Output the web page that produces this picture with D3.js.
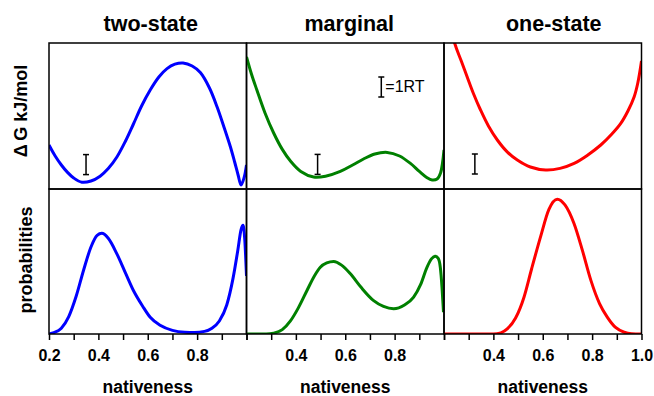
<!DOCTYPE html>
<html>
<head>
<meta charset="utf-8">
<script src="https://cdn.jsdelivr.net/npm/d3@7/dist/d3.min.js"></script>
<style>
  html, body { margin: 0; padding: 0; background: #fff; }
  svg { display: block; font-family: "Liberation Sans", Arial, sans-serif; }
</style>
</head>
<body>
<svg id="chart" width="654" height="396"></svg>
<script>
// Column titles and colours
const panels = ["two-state", "marginal", "one-state"];
const colors = ["#0000ff", "#008000", "#ff0000"];

// Free-energy profiles (in units of RT) vs nativeness
const twoStateNat = [0.2, 0.225, 0.25, 0.275, 0.3, 0.333, 0.37, 0.407, 0.44, 0.475, 0.51, 0.542, 0.575, 0.61, 0.645, 0.678, 0.71, 0.743, 0.78, 0.813, 0.85, 0.881, 0.91, 0.935, 0.952, 0.966, 0.978, 0.99, 1.0];
const twoStateG   = [2.2, 1.65,  1.2,  0.83,  0.55, 0.34, 0.4,  0.64,  1.02, 1.6,   2.4,  3.25,  4.15,  4.95, 5.6,   6.02,  6.24, 6.3,   6.15, 5.82,  5.05, 4.1,   3.05, 2.1,   1.35,  0.7,   0.2,   0.55, 1.2];

const marginalNat = [0.2, 0.22, 0.242, 0.275, 0.31, 0.345, 0.378, 0.42, 0.472, 0.52, 0.58, 0.63, 0.674, 0.72, 0.77, 0.82, 0.864, 0.9, 0.93, 0.952, 0.972, 0.986, 1.0];
const marginalG   = [6.6, 5.75, 4.95,  3.8,   2.8,  1.98,  1.4,   0.88, 0.6,   0.64, 0.88, 1.2,  1.5,   1.75, 1.83, 1.65, 1.28,  0.88, 0.58, 0.45,  0.5,   0.8,   1.95];

const oneStateNat = [0.2, 0.243, 0.27, 0.294, 0.32, 0.348, 0.38, 0.416, 0.455, 0.497, 0.55, 0.612, 0.67, 0.727, 0.78, 0.835, 0.88, 0.916, 0.945, 0.97, 0.985, 1.0];
const oneStateG   = [9.5, 7.3,   6.4,  5.6,   4.75, 3.95,  3.15, 2.45,  1.87,  1.45,  1.1,  0.95,  1.03, 1.28,  1.68, 2.2,   2.75, 3.28,  3.9,   4.6,  5.3,   6.4];

// Probability distributions vs nativeness
const twoStatePNat = [0.2, 0.22, 0.25, 0.28, 0.31, 0.34, 0.37, 0.395, 0.414, 0.44, 0.474, 0.51, 0.542, 0.58, 0.61, 0.65, 0.7, 0.75, 0.79, 0.83, 0.86, 0.89, 0.92, 0.945, 0.965, 0.978, 0.986, 0.993, 1.0];
const twoStateP    = [0.0, 0.01, 0.04, 0.12, 0.26, 0.44, 0.6,  0.68,  0.694, 0.66, 0.556, 0.42, 0.3,   0.19, 0.115, 0.06, 0.025, 0.012, 0.01, 0.018, 0.04, 0.09, 0.2,  0.38,  0.58,  0.72,  0.75,  0.65,  0.4];

const marginalPNat = [0.2, 0.28, 0.31, 0.345, 0.378, 0.41, 0.445, 0.475, 0.499, 0.525, 0.553, 0.585, 0.62, 0.665, 0.715, 0.755, 0.796, 0.84, 0.877, 0.905, 0.931, 0.95, 0.965, 0.977, 0.985, 0.992, 0.998];
const marginalP    = [0.0, 0.0,  0.006, 0.03, 0.09,  0.18, 0.3,   0.4,   0.46,  0.49,  0.5,   0.475, 0.417, 0.32,  0.23,  0.19,  0.174, 0.2,  0.254, 0.34,  0.46,  0.52, 0.537, 0.52,  0.46,  0.32,  0.15];

const oneStatePNat = [0.2, 0.4, 0.43, 0.456, 0.49, 0.524, 0.555, 0.591, 0.625, 0.659, 0.69, 0.727, 0.76, 0.795, 0.83, 0.862, 0.895, 0.93, 0.96, 1.0];
const oneStateP    = [0.0, 0.0, 0.008, 0.035, 0.11, 0.254, 0.45, 0.67,  0.86,  0.93,  0.89, 0.76,  0.58, 0.37,  0.21, 0.115, 0.045, 0.012, 0.002, 0.0];

// 1 RT scale bars: nativeness position and G range
const barNat  = [0.35, 0.488, 0.325];
const barLow  = [0.72, 0.73, 0.75];
const barHigh = [1.72, 1.73, 1.75];
const legendBarNat = 0.746;
const legendBarG = [4.6, 5.6];
const legendText = "=1RT";

// Axis settings
const xDomain = [0.2, 1.0];
const tickValues = [0.2, 0.3, 0.4, 0.5, 0.6, 0.7, 0.8, 0.9, 1.0];
const tickLabels = [[0.2, 0.4, 0.6, 0.8], [0.4, 0.6, 0.8], [0.4, 0.6, 0.8, 1.0]];
const gDomain = [0, 7.3];
const pDomain = [0, 1];

const energyNat = [twoStateNat, marginalNat, oneStateNat];
const energyG = [twoStateG, marginalG, oneStateG];
const probNat = [twoStatePNat, marginalPNat, oneStatePNat];
const probP = [twoStateP, marginalP, oneStateP];

const svg = d3.select("#chart");

const plotL = 49, plotR = 641.5;
const rowTop = 43, rowMid = 189, rowBot = 334;
const pw = (plotR - plotL) / 3;
const titleShift = [3, 4, 11];

const yG = d3.scaleLinear().domain(gDomain).range([rowMid, rowTop]);
const yP = d3.scaleLinear().domain(pDomain).range([rowBot, rowMid]);

const defs = svg.append("defs");

panels.forEach((name, i) => {
  const x0 = plotL + i * pw;
  const x = d3.scaleLinear().domain(xDomain).range([x0, x0 + pw]);

  // clip regions for the two rows
  defs.append("clipPath").attr("id", "clipTop" + i)
    .append("rect").attr("x", x0).attr("y", rowTop).attr("width", pw).attr("height", rowMid - rowTop);
  defs.append("clipPath").attr("id", "clipBot" + i)
    .append("rect").attr("x", x0).attr("y", rowMid).attr("width", pw).attr("height", rowBot - rowMid);

  // free-energy curve
  const gLine = d3.line()
    .x(d => x(d[0])).y(d => yG(d[1]))
    .curve(d3.curveCatmullRom.alpha(0.5));
  svg.append("path")
    .datum(d3.zip(energyNat[i], energyG[i]))
    .attr("clip-path", `url(#clipTop${i})`)
    .attr("d", gLine)
    .attr("fill", "none")
    .attr("stroke", colors[i])
    .attr("stroke-width", 3)
    .attr("stroke-linejoin", "round");

  // probability curve
  const pLine = d3.line()
    .x(d => x(d[0])).y(d => yP(d[1]))
    .curve(d3.curveMonotoneX);
  svg.append("path")
    .datum(d3.zip(probNat[i], probP[i]))
    .attr("clip-path", `url(#clipBot${i})`)
    .attr("d", pLine)
    .attr("fill", "none")
    .attr("stroke", colors[i])
    .attr("stroke-width", 3)
    .attr("stroke-linejoin", "round");

  // 1 RT scale bar
  const bx = x(barNat[i]);
  const bar = svg.append("g").attr("stroke", "#000").attr("stroke-width", 1.5);
  bar.append("line").attr("x1", bx).attr("x2", bx).attr("y1", yG(barLow[i])).attr("y2", yG(barHigh[i]));
  bar.append("line").attr("x1", bx - 3).attr("x2", bx + 3).attr("y1", yG(barLow[i])).attr("y2", yG(barLow[i]));
  bar.append("line").attr("x1", bx - 3).attr("x2", bx + 3).attr("y1", yG(barHigh[i])).attr("y2", yG(barHigh[i]));

  // panel frames
  svg.append("rect").attr("x", x0).attr("y", rowTop).attr("width", pw).attr("height", rowMid - rowTop)
    .attr("fill", "none").attr("stroke", "#000").attr("stroke-width", 1.5);
  svg.append("rect").attr("x", x0).attr("y", rowMid).attr("width", pw).attr("height", rowBot - rowMid)
    .attr("fill", "none").attr("stroke", "#000").attr("stroke-width", 1.5);

  // bottom axis
  const axis = d3.axisBottom(x)
    .tickValues(tickValues)
    .tickSize(6)
    .tickFormat(d => tickLabels[i].some(v => Math.abs(v - d) < 1e-9) ? d3.format(".1f")(d) : "");
  const ax = svg.append("g").attr("transform", `translate(0,${rowBot})`).call(axis);
  ax.select(".domain").remove();
  ax.selectAll(".tick line").attr("stroke", "#000").attr("stroke-width", 1.5);
  ax.selectAll(".tick text")
    .attr("y", 0).attr("dy", null)
    .attr("transform", "translate(0,27)")
    .attr("fill", "#000")
    .style("font-family", '"Liberation Sans", Arial, sans-serif')
    .style("font-size", "16px")
    .style("font-weight", "bold");

  // column title
  svg.append("text")
    .attr("x", x0 + pw / 2 + titleShift[i]).attr("y", 31)
    .attr("text-anchor", "middle")
    .style("font-size", "21.5px").style("font-weight", "bold")
    .text(name);

  // x axis title
  svg.append("text")
    .attr("x", x0 + pw / 2).attr("y", 393)
    .attr("text-anchor", "middle")
    .style("font-size", "17.5px").style("font-weight", "bold")
    .text("nativeness");
});

// legend bar for the RT scale in the middle panel
{
  const x = d3.scaleLinear().domain(xDomain).range([plotL + pw, plotL + 2 * pw]);
  const lx = x(legendBarNat);
  const g = svg.append("g").attr("stroke", "#000").attr("stroke-width", 1.5);
  g.append("line").attr("x1", lx).attr("x2", lx).attr("y1", yG(legendBarG[0])).attr("y2", yG(legendBarG[1]));
  g.append("line").attr("x1", lx - 3).attr("x2", lx + 3).attr("y1", yG(legendBarG[0])).attr("y2", yG(legendBarG[0]));
  g.append("line").attr("x1", lx - 3).attr("x2", lx + 3).attr("y1", yG(legendBarG[1])).attr("y2", yG(legendBarG[1]));
  svg.append("text")
    .attr("x", lx + 4).attr("y", 92)
    .style("font-size", "16px")
    .text(legendText);
}

// y axis titles
svg.append("text")
  .attr("transform", "translate(26.5,111) rotate(-90)")
  .attr("text-anchor", "middle")
  .style("font-size", "18px").style("font-weight", "bold")
  .text("\u0394\u2009G kJ/mol");

svg.append("text")
  .attr("transform", "translate(31.5,260) rotate(-90)")
  .attr("text-anchor", "middle")
  .style("font-size", "18px").style("font-weight", "bold")
  .text("probabilities");
</script>
</body>
</html>
